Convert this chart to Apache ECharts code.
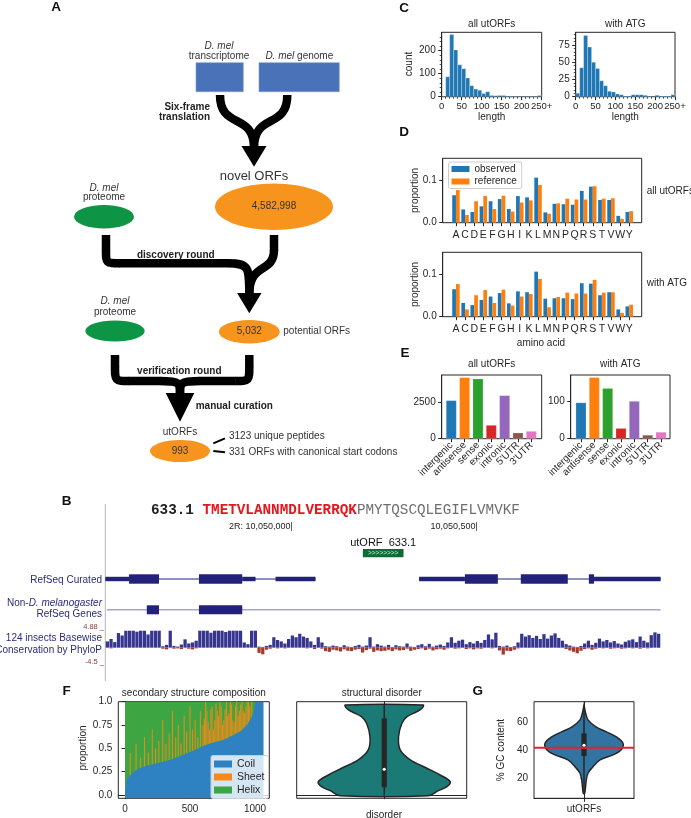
<!DOCTYPE html>
<html>
<head>
<meta charset="utf-8">
<title>utORFs figure</title>
<script src="https://cdn.jsdelivr.net/npm/echarts@6/dist/echarts.min.js"></script>
<style>
html,body{margin:0;padding:0;background:#ffffff;}
#chart{width:691px;height:818px;}
</style>
</head>
<body>
<div id="chart"></div>
<script>
// ================= DATA =================
// Panel A flow counts
const flowCounts = ['4,582,998', '5,032', '993'];
const utorfNotes = ['3123 unique peptides', '331 ORFs with canonical start codons'];

// Panel C: length histograms (bin start, width 10)
const binWidth = 10;
const lengthBins = [0,10,20,30,40,50,60,70,80,90,100,110,120,130,140,150,160,170,180,190,200,210,220,230,240];
const countAll = [0,87,270,203,139,122,81,48,33,28,14,22,5,4,5,5,2,1,1,1,1,1,1,3,5];
const countATG = [5,42,89,72,50,41,23,16,8,7,4,3,1,1,3,3,3,2,1,0,2,1,1,1,3];
const lengthTicks = [0,50,100,150,200,250];

// Panel D: amino acid composition
const aminoAcids = ['A','C','D','E','F','G','H','I','K','L','M','N','P','Q','R','S','T','V','W','Y'];
const observedAll  = [0.064,0.031,0.025,0.038,0.050,0.055,0.032,0.062,0.059,0.105,0.024,0.044,0.043,0.042,0.074,0.084,0.053,0.053,0.016,0.025];
const referenceAll = [0.076,0.018,0.050,0.062,0.032,0.063,0.026,0.047,0.052,0.088,0.021,0.045,0.056,0.054,0.054,0.085,0.056,0.057,0.009,0.027];
const observedATG  = [0.064,0.032,0.027,0.039,0.047,0.055,0.031,0.059,0.057,0.105,0.042,0.043,0.043,0.041,0.078,0.077,0.050,0.057,0.017,0.024];
const referenceATG = [0.076,0.017,0.050,0.062,0.032,0.063,0.026,0.047,0.053,0.088,0.022,0.046,0.056,0.054,0.054,0.086,0.056,0.057,0.009,0.028];

// Panel E: genomic location
const locCats = ['intergenic','antisense','sense','exonic','intronic',"5'UTR","3'UTR"];
const locAll = [2662,4259,4167,949,3009,417,532];
const locATG = [96,163,134,28,100,10,18];

// Panel B: genome browser (2R coordinates)
const genomeTicks = [10050000, 10050500];
const genomeTickLabels = ['2R: 10,050,000|', '10,050,500|'];
const utorfName = 'utORF  633.1';
const utorfSpan = [[10050189, 10050299]];
const refseqSpans = [[10049493, 10050061], [10050341, 10050994]];
const refseqExons = [
  [10049493,10049557,0],[10049557,10049638,1],[10049746,10049863,1],[10049863,10049899,0],[10049953,10050061,0],
  [10050341,10050465,0],[10050465,10050554,1],[10050616,10050743,1],[10050800,10050814,1],[10050814,10050994,0]
];
const nonDmelSpans = [[10049497, 10050994]];
const nonDmelExons = [[10049605,10049638,1],[10049746,10049863,1]];
const phyloPos = [
  1.8,2.5,1.6,4.2,3.5,4.88,4.88,4.88,4.6,4.88,
  4.88,3.8,4.88,4.88,4.88,0.4,0.8,4.88,0.5,0.3,
  0.9,2.4,1.2,1.5,2.0,4.88,4.88,4.88,4.3,4.88,
  4.88,4.88,4.5,4.88,4.88,4.88,4.88,1.5,1.0,4.88,
  4.88,0.3,0.2,0.5,0.8,3.0,2.2,1.8,1.2,2.5,
  3.5,3.0,4.0,3.2,2.8,1.8,0.8,3.0,1.5,0.4,
  0.3,0.6,0.4,0.2,0.7,0.3,0.2,0.5,0.8,0.3,
  0.6,3.0,0.3,1.0,0.6,0.3,0.8,0.2,0.7,0.4,
  0.3,1.2,0.3,0.2,0.7,1.0,0.4,1.1,0.3,0.6,
  0.9,0.5,1.5,3.0,1.4,2.0,2.3,1.0,1.6,1.2,
  1.9,1.4,2.2,3.8,2.4,4.3,0.5,0.3,0.6,0.2,
  0.4,1.5,4.0,3.2,3.6,2.8,3.4,2.5,3.9,2.6,
  3.5,4.1,2.8,2.0,1.0,0.6,0.3,0.2,0.5,1.2,
  2.0,0.8,1.4,2.6,1.8,2.2,1.5,1.9,1.2,0.9,
  1.7,2.1,2.4,1.6,3.2,2.0,1.5,3.6,4.4,4.0
];
const phyloNeg = [
  0,-0.2,0,0,0,0,0,0,0,0,0,0,0,0,0,
  -0.3,-0.5,0,-0.3,-0.2,-0.4,0,-0.3,-0.5,-0.2,
  0,0,0,0,0,0,0,0,0,0,0,0,0,0,0,0,
  -1.5,-1.9,-0.6,-0.3,0,-0.2,0,-0.2,0,0,
  0,0,0,-0.2,0,-0.4,0,-0.3,-1.0,-1.2,
  -0.6,-0.8,-1.1,-0.5,-0.9,-1.0,-0.6,-0.4,-1.4,-0.7,
  -0.3,-1.2,-0.8,-1.0,-0.9,-0.6,-1.0,-0.5,-0.8,-0.7,
  -0.3,-0.9,-0.6,-0.4,-0.2,-0.7,-0.3,-0.8,-0.5,-0.3,
  -0.6,-0.2,0,-0.3,-0.2,0,-0.4,-0.2,-0.5,-0.2,
  -0.3,0,0,-0.2,0,-0.8,-2.0,-0.9,-1.0,-0.6,
  -0.2,0,0,-0.1,0,-0.1,0,0,-0.1,0,
  0,-0.1,0,-0.4,-0.8,-1.2,-1.6,-0.9,-0.4,-0.2,
  -0.6,-0.3,-0.1,-0.2,-0.1,-0.3,-0.2,-0.1,-0.3,-0.2,
  -0.1,-0.2,-0.1,-0.3,-0.1,-0.2,-0.1,0,-0.1
];

// Panel F: secondary structure (sorted utORFs) and disorder
const coilCurve = [[0,0.02],[5,0.08],[13,0.16],[38,0.21],[115,0.29],[244,0.34],[372,0.39],[500,0.46],[628,0.54],[756,0.59],[885,0.68],[949,0.77],[987,0.875],[1008,1],[1064,1]];
const helixSpan = [[0,1],[1064,1]];
const sheetSpikes = [
  [40,0.21,0.45],[85,0.26,0.55],[120,0.29,0.40],[150,0.30,0.62],[180,0.31,0.45],[210,0.32,0.70],[235,0.33,0.50],
  [260,0.345,0.58],[290,0.35,0.80],[315,0.365,0.55],[340,0.375,0.66],[365,0.385,0.90],[390,0.40,0.62],[410,0.41,0.75],
  [430,0.42,0.55],[455,0.435,0.85],[475,0.445,0.68],[500,0.46,0.95],[520,0.47,0.70],[540,0.485,0.80],[560,0.495,0.62],
  [580,0.51,0.90],[600,0.52,0.75],[610,0.53,0.82],[620,0.535,1.0],[630,0.54,0.9],[640,0.545,0.78],[650,0.55,0.7],
  [660,0.55,0.92],[670,0.555,0.95],[680,0.56,0.70],[690,0.565,0.8],[700,0.57,0.98],[710,0.575,0.9],[720,0.58,0.85],
  [730,0.58,1.0],[740,0.585,0.95],[750,0.59,0.75],[760,0.59,0.80],[770,0.60,0.92],[780,0.605,1.0],[790,0.61,0.85],
  [800,0.62,0.88],[810,0.63,1.0],[820,0.635,0.97],[830,0.64,0.8],[840,0.65,0.78],[850,0.66,0.95],[860,0.665,1.0],
  [870,0.67,0.85],[880,0.675,0.90],[890,0.69,0.97],[900,0.70,1.0],[910,0.715,0.9],[920,0.73,0.88],[930,0.745,0.95],
  [940,0.76,1.0],[950,0.78,1.0],[960,0.80,0.95],[975,0.84,1.0]
];
const disorderLevels  = [1.0,0.964,0.926,0.871,0.798,0.650,0.504,0.394,0.302,0.228,0.154,0.099,0.055,0.0];
const disorderDensity = [0.229,0.222,0.192,0.134,0.104,0.084,0.094,0.153,0.251,0.329,0.388,0.369,0.318,0.259];
const disorderBox = [0, 0.093, 0.291, 0.853, 1.0];

// Panel G: GC content
const gcLevels  = [72.6,66.7,62,57,53.6,50,45.3,40.5,37,33.4,28.6,23.9,19,9.5];
const gcDensity = [0,0.017,0.04,0.12,0.22,0.32,0.39,0.37,0.29,0.16,0.09,0.04,0.023,0.007];
const gcBox = [9.5, 36.2, 43.9, 52.4, 72.6];
const genomeGC = 42.1;

// ================= STYLE =================
const FONT = '"Liberation Sans", Arial, Helvetica, sans-serif';
const MONO = '"Liberation Mono", "DejaVu Sans Mono", monospace';
const TXT = '#262626';
const TAB10 = ['#1f77b4','#ff7f0e','#2ca02c','#d62728','#9467bd','#8c564b','#e377c2'];
const GMIN = 10049492, GMAX = 10050995;
const COIL = '#2f82c2', SHEET = '#f5891c', HELIX = '#3da541';
const NAVY = '#22227a';

function ax(grid, o) {
  const base = {gridIndex: grid, type: 'value',
    axisLine: {show: true, lineStyle: {color: TXT, width: 1}},
    axisTick: {show: true, length: 3.5, lineStyle: {color: TXT, width: 1}},
    axisLabel: {fontSize: 10, color: TXT, fontFamily: FONT, margin: 5},
    splitLine: {show: false}};
  for (const k in o) {
    if (base[k] && typeof base[k] === 'object' && !Array.isArray(base[k]) && typeof o[k] === 'object') base[k] = Object.assign({}, base[k], o[k]);
    else base[k] = o[k];
  }
  return base;
}
function hid(grid, o) { return Object.assign({gridIndex: grid, type: 'value', show: false}, o || {}); }
const boxed = {show: true, borderColor: TXT, borderWidth: 1, backgroundColor: 'transparent'};

const grids = [
  Object.assign({left: 441.7, top: 32.3, width: 100, height: 64.4}, boxed),   //0 C1
  Object.assign({left: 575.7, top: 32.3, width: 99.3, height: 64.4}, boxed),  //1 C2
  Object.assign({left: 442.7, top: 158.3, width: 199, height: 64.4}, boxed),  //2 D1
  {left: 451.4, top: 158.3, width: 182.4, height: 64.4},                      //3 D1 inner
  Object.assign({left: 442.7, top: 252.3, width: 199, height: 64.4}, boxed),  //4 D2
  {left: 451.4, top: 252.3, width: 182.4, height: 64.4},                      //5 D2 inner
  Object.assign({left: 441.7, top: 375, width: 100, height: 63.7}, boxed),    //6 E1
  {left: 444.6, top: 375, width: 93.4, height: 63.7},                         //7 E1 inner
  Object.assign({left: 570.7, top: 375, width: 99.3, height: 63.7}, boxed),   //8 E2
  {left: 574.3, top: 375, width: 93.4, height: 63.7},                         //9 E2 inner
  {left: 105, top: 549, width: 556, height: 8.3},                             //10 utORF track
  {left: 105, top: 574.3, width: 556, height: 9.4},                           //11 RefSeq
  {left: 105, top: 605.3, width: 556, height: 9},                             //12 non-Dmel
  {left: 105.5, top: 630.7, width: 555, height: 32.6},                        //13 phyloP
  Object.assign({left: 118.3, top: 701.7, width: 151, height: 96.6}, boxed),  //14 F1
  Object.assign({left: 296.7, top: 701.7, width: 170, height: 96.6}, boxed),  //15 F2
  Object.assign({left: 534, top: 701.7, width: 100, height: 96.6}, boxed)     //16 G
];

const minor = {show: true, splitNumber: 5, length: 2, lineStyle: {color: TXT, width: 0.8}};
const catX = (g, cats, extra) => ax(g, Object.assign({type: 'category', data: cats, axisLine: {show: false},
  axisTick: {alignWithLabel: true, interval: 0}, axisLabel: {interval: 0, margin: 7, fontSize: 10.5}}, extra || {}));
const plain = v => String(v);

const xAxes = [
  ax(0, {min: 0, max: 250, interval: 50, minorTick: minor, axisLabel: {fontSize: 9.5, formatter: v => v === 250 ? '250+' : String(v)}}),
  ax(1, {min: 0, max: 250, interval: 50, minorTick: minor, axisLabel: {fontSize: 9.5, formatter: v => v === 250 ? '250+' : String(v)}}),
  hid(2, {min: 0, max: 1}),
  catX(3, aminoAcids),
  hid(4, {min: 0, max: 1}),
  catX(5, aminoAcids),
  hid(6, {min: 0, max: 1}),
  catX(7, locCats, {axisLabel: {interval: 0, rotate: 45, margin: 5, fontSize: 10}}),
  hid(8, {min: 0, max: 1}),
  catX(9, locCats, {axisLabel: {interval: 0, rotate: 45, margin: 5, fontSize: 10}}),
  ax(10, {min: GMIN, max: GMAX, position: 'top', axisLine: {show: false}, axisTick: {show: false},
    axisLabel: {customValues: genomeTicks, formatter: v => genomeTickLabels[genomeTicks.indexOf(v)], align: 'right', margin: 18, fontSize: 9, color: '#222'}}),
  hid(11, {min: GMIN, max: GMAX}),
  hid(12, {min: GMIN, max: GMAX}),
  {gridIndex: 13, type: 'category', show: false, data: phyloPos.map((_, i) => String(i))},
  ax(14, {min: -51.5, max: 1110, axisTick: {customValues: [0, 500, 1000]}, axisLabel: {customValues: [0, 500, 1000], margin: 6, formatter: plain}}),
  ax(15, {min: -0.515, max: 0.485, axisTick: {customValues: [0]}, axisLabel: {show: false}}),
  ax(16, {min: -0.5, max: 0.5, axisTick: {customValues: [0]}, axisLabel: {customValues: [0], formatter: () => 'utORFs', margin: 6}})
];

const yl = (vals, fmt) => ({axisTick: {customValues: vals}, axisLabel: {customValues: vals, margin: 6, formatter: fmt || plain}});
const yAxes = [
  ax(0, Object.assign({min: 0, max: 280, interval: 100, minorTick: minor}, yl([0, 100, 200]))),
  ax(1, Object.assign({min: 0, max: 93.5, interval: 25, minorTick: minor}, yl([0, 25, 50, 75]))),
  ax(2, Object.assign({min: 0, max: 0.15}, yl([0, 0.1], v => v.toFixed(1)))),
  hid(3, {min: 0, max: 0.15}),
  ax(4, Object.assign({min: 0, max: 0.15}, yl([0, 0.1], v => v.toFixed(1)))),
  hid(5, {min: 0, max: 0.15}),
  ax(6, Object.assign({min: 0, max: 4420}, yl([0, 2500]))),
  hid(7, {min: 0, max: 4420}),
  ax(8, Object.assign({min: 0, max: 169}, yl([0, 100]))),
  hid(9, {min: 0, max: 169}),
  hid(10, {min: 0, max: 1}),
  hid(11, {min: 0, max: 1}),
  hid(12, {min: 0, max: 1}),
  hid(13, {min: -4.5, max: 4.88}),
  ax(14, Object.assign({min: -0.035, max: 1}, yl([0, 0.25, 0.5, 0.75, 1], v => v === 0 ? '0.0' : v === 1 ? '1.0' : String(v)))),
  ax(15, {min: -0.029, max: 1.036, axisTick: {customValues: [0, 0.5, 1]}, axisLabel: {show: false}}),
  ax(16, Object.assign({min: 6, max: 75}, yl([20, 40, 60])))
];

// ================= RENDERERS =================
function histRender(color) {
  return function (params, api) {
    const x0 = api.value(0), h = api.value(1);
    const a = api.coord([x0, h]);
    const b = api.coord([x0 + binWidth, 0]);
    return {type: 'rect', shape: {x: a[0], y: a[1], width: b[0] - a[0], height: b[1] - a[1]},
      style: {fill: color, stroke: 'rgba(255,255,255,0.45)', lineWidth: 0.6}};
  };
}
function spanLine(color, width) {
  return function (params, api) {
    const a = api.coord([api.value(0), 0.5]), b = api.coord([api.value(1), 0.5]);
    return {type: 'line', shape: {x1: a[0], y1: a[1], x2: b[0], y2: b[1]}, style: {stroke: color, lineWidth: width}};
  };
}
function exonRect(color) {
  return function (params, api) {
    const a = api.coord([api.value(0), 1]), b = api.coord([api.value(1), 0]);
    const full = b[1] - a[1];
    const h = api.value(2) === 1 ? full : full * 0.47;
    const cy = (a[1] + b[1]) / 2;
    return {type: 'rect', shape: {x: a[0], y: cy - h / 2, width: Math.max(1, b[0] - a[0]), height: h}, style: {fill: color}};
  };
}
function utorfRender(params, api) {
  const a = api.coord([api.value(0), 1]), b = api.coord([api.value(1), 0]);
  const cx = (a[0] + b[0]) / 2;
  return {type: 'group', children: [
    {type: 'rect', shape: {x: a[0], y: a[1], width: b[0] - a[0], height: b[1] - a[1]}, style: {fill: '#0f6a36'}},
    {type: 'text', x: cx, y: (a[1] + b[1]) / 2, style: {text: '>>>>>>>>', fill: '#d6efdc', fontSize: 6.5, fontFamily: FONT, align: 'center', verticalAlign: 'middle'}},
    {type: 'text', x: cx, y: a[1] - 6, style: {text: utorfName, fill: '#111', fontSize: 11, fontFamily: FONT, align: 'center', verticalAlign: 'middle'}}
  ]};
}
function spikeRender(params, api) {
  const a = api.coord([api.value(0), api.value(1)]), b = api.coord([api.value(0), api.value(2)]);
  return {type: 'rect', shape: {x: a[0] - 0.55, y: b[1], width: 1.1, height: a[1] - b[1]}, style: {fill: SHEET, opacity: 0.9}};
}
function violinRender(levels, dens, box, fill) {
  return function (params, api) {
    const right = [], left = [];
    for (let i = 0; i < levels.length; i++) {
      right.push(api.coord([dens[i], levels[i]]));
      left.push(api.coord([-dens[i], levels[i]]));
    }
    const pts = right.concat(left.reverse());
    const w0 = api.coord([0, box[0]]), w1 = api.coord([0, box[4]]);
    const q1 = api.coord([0, box[1]]), q3 = api.coord([0, box[3]]), md = api.coord([0, box[2]]);
    return {type: 'group', children: [
      {type: 'polygon', shape: {points: pts, smooth: 0.35}, style: {fill: fill, stroke: TXT, lineWidth: 1.5}},
      {type: 'line', shape: {x1: w0[0], y1: w0[1], x2: w1[0], y2: w1[1]}, style: {stroke: TXT, lineWidth: 1.5}},
      {type: 'rect', shape: {x: q3[0] - 2.6, y: q3[1], width: 5.2, height: q1[1] - q3[1]}, style: {fill: TXT}},
      {type: 'circle', shape: {cx: md[0], cy: md[1], r: 1.6}, style: {fill: '#ffffff'}}
    ]};
  };
}

// ================= SERIES =================
const series = [
  {type: 'custom', xAxisIndex: 0, yAxisIndex: 0, clip: true, data: lengthBins.map((b, i) => [b, countAll[i]]), renderItem: histRender('#1f77b4'), silent: true},
  {type: 'custom', xAxisIndex: 1, yAxisIndex: 1, clip: true, data: lengthBins.map((b, i) => [b, countATG[i]]), renderItem: histRender('#1f77b4'), silent: true},
  {type: 'bar', name: 'observed', xAxisIndex: 3, yAxisIndex: 3, data: observedAll, itemStyle: {color: '#1f77b4'}, barGap: '0%', barCategoryGap: '18%'},
  {type: 'bar', name: 'reference', xAxisIndex: 3, yAxisIndex: 3, data: referenceAll, itemStyle: {color: '#ff7f0e'}, barGap: '0%', barCategoryGap: '18%'},
  {type: 'bar', name: 'observed', xAxisIndex: 5, yAxisIndex: 5, data: observedATG, itemStyle: {color: '#1f77b4'}, barGap: '0%', barCategoryGap: '18%'},
  {type: 'bar', name: 'reference', xAxisIndex: 5, yAxisIndex: 5, data: referenceATG, itemStyle: {color: '#ff7f0e'}, barGap: '0%', barCategoryGap: '18%'},
  {type: 'bar', xAxisIndex: 7, yAxisIndex: 7, barCategoryGap: '20%',
    data: locAll.map((v, i) => ({value: v, itemStyle: {color: TAB10[i], borderColor: 'rgba(255,255,255,0.35)', borderWidth: 0.6}}))},
  {type: 'bar', xAxisIndex: 9, yAxisIndex: 9, barCategoryGap: '20%',
    data: locATG.map((v, i) => ({value: v, itemStyle: {color: TAB10[i], borderColor: 'rgba(255,255,255,0.35)', borderWidth: 0.6}}))},
  {type: 'custom', xAxisIndex: 10, yAxisIndex: 10, data: utorfSpan, renderItem: utorfRender, silent: true},
  {type: 'custom', xAxisIndex: 11, yAxisIndex: 11, data: refseqSpans, renderItem: spanLine(NAVY, 1), silent: true},
  {type: 'custom', xAxisIndex: 11, yAxisIndex: 11, data: refseqExons, renderItem: exonRect(NAVY), silent: true},
  {type: 'custom', xAxisIndex: 12, yAxisIndex: 12, data: nonDmelSpans, renderItem: spanLine('#a4a4d8', 1.6), silent: true},
  {type: 'custom', xAxisIndex: 12, yAxisIndex: 12, data: nonDmelExons, renderItem: exonRect(NAVY), silent: true},
  {type: 'bar', xAxisIndex: 13, yAxisIndex: 13, data: phyloPos, itemStyle: {color: '#36368f'}, barCategoryGap: '12%', barGap: '-100%', silent: true},
  {type: 'bar', xAxisIndex: 13, yAxisIndex: 13, data: phyloNeg, itemStyle: {color: '#a53a2c'}, barCategoryGap: '12%', barGap: '-100%', silent: true},
  {type: 'line', name: 'Helix', xAxisIndex: 14, yAxisIndex: 14, data: helixSpan, symbol: 'none', z: 1,
    itemStyle: {color: HELIX}, lineStyle: {width: 0, color: HELIX}, areaStyle: {color: HELIX, opacity: 1, origin: 'start'}, silent: true},
  {type: 'custom', name: 'Sheet', xAxisIndex: 14, yAxisIndex: 14, data: sheetSpikes, renderItem: spikeRender, z: 2,
    encode: {x: 0, y: [1, 2]}, itemStyle: {color: SHEET}, silent: true},
  {type: 'line', name: 'Coil', xAxisIndex: 14, yAxisIndex: 14, data: coilCurve, symbol: 'none', smooth: 0.25, z: 3,
    itemStyle: {color: COIL}, lineStyle: {width: 0, color: COIL}, areaStyle: {color: COIL, opacity: 1, origin: 'start'}, silent: true},
  {type: 'custom', xAxisIndex: 15, yAxisIndex: 15, data: [[0]], renderItem: violinRender(disorderLevels, disorderDensity, disorderBox, '#1b7a76'), silent: true},
  {type: 'custom', xAxisIndex: 16, yAxisIndex: 16, data: [[0]], renderItem: violinRender(gcLevels, gcDensity, gcBox, '#3274a1'), silent: true},
  {type: 'line', xAxisIndex: 16, yAxisIndex: 16, data: [[-0.5, genomeGC], [0.5, genomeGC]], symbol: 'none', lineStyle: {color: '#e8202a', width: 2}, silent: true}
];

// ================= GRAPHIC (diagram, labels) =================
function T(x, y, text, o) {
  return {type: 'text', x: x, y: y, z: 10, style: Object.assign({text: text, fontSize: 10, fontFamily: FONT, fill: '#333', align: 'center', verticalAlign: 'middle'}, o || {})};
}
function VT(x, y, text, o) {
  const t = T(x, y, text, Object.assign({fill: TXT}, o || {}));
  t.rotation = Math.PI / 2;
  return t;
}
function ELL(cx, cy, rx, ry, fill) {
  return {type: 'circle', x: cx, y: cy, scaleX: rx / ry, shape: {cx: 0, cy: 0, r: ry}, style: {fill: fill}};
}
function BZ(x1, y1, c1x, c1y, c2x, c2y, x2, y2, w) {
  return {type: 'bezierCurve', shape: {x1: x1, y1: y1, cpx1: c1x, cpy1: c1y, cpx2: c2x, cpy2: c2y, x2: x2, y2: y2}, style: {stroke: '#000', lineWidth: w || 8.5, fill: null}};
}
function LN(x1, y1, x2, y2, w, c) {
  return {type: 'line', shape: {x1: x1, y1: y1, x2: x2, y2: y2}, style: {stroke: c || '#000', lineWidth: w || 8.5}};
}
function TRI(pts) { return {type: 'polygon', shape: {points: pts}, style: {fill: '#000'}}; }
const ORANGE = '#f7941d', GREEN = '#0e9445', BLUEBOX = '#4a72b8';
const ital = {i: {fontStyle: 'italic', fontSize: 10, fontFamily: FONT, fill: '#333'}};
const bold = {fontWeight: 'bold', fill: '#222'};

const els = [];
// panel letters
[['A', 56, 7], ['B', 66.7, 501.7], ['C', 404, 8.3], ['D', 404, 132.7], ['E', 405, 353], ['F', 66.7, 691.7], ['G', 477.7, 691.7]]
  .forEach(p => els.push(T(p[1], p[2], p[0], {fontSize: 13.5, fontWeight: 'bold', fill: '#111'})));

// ---- Panel A ----
els.push(
  T(219, 46.7, 'D. mel', {fontStyle: 'italic'}),
  T(219, 56, 'transcriptome'),
  {type: 'rect', shape: {x: 196, y: 62.7, width: 47.3, height: 29}, style: {fill: BLUEBOX, stroke: '#7d9bd3', lineWidth: 0.6}},
  T(299.3, 56, '{i|D. mel} genome', {rich: ital}),
  {type: 'rect', shape: {x: 259, y: 62.7, width: 80.3, height: 29}, style: {fill: BLUEBOX, stroke: '#7d9bd3', lineWidth: 0.6}},
  BZ(220, 95, 220, 130, 254, 112, 254, 148),
  BZ(287.3, 95, 287.3, 130, 254, 112, 254, 148),
  TRI([[241.5, 146], [266.5, 146], [254, 166.7]]),
  T(210, 107.3, 'Six-frame', Object.assign({align: 'right'}, bold)),
  T(210, 117.3, 'translation', Object.assign({align: 'right'}, bold)),
  T(254, 176.7, 'novel ORFs', {fontSize: 13}),
  ELL(274, 206.7, 59, 23.3, ORANGE),
  T(274, 206.7, flowCounts[0]),
  T(104, 188.3, 'D. mel', {fontStyle: 'italic'}),
  T(104, 197.3, 'proteome'),
  ELL(104, 216.7, 30, 11.7, GREEN),
  // discovery round arrow
  LN(106, 235, 106, 250.5),
  BZ(106, 250, 106, 263.3, 106, 263.3, 120, 263.3),
  LN(119.5, 263.3, 228.5, 263.3),
  BZ(228, 263.3, 249.3, 263.3, 249.3, 268, 249.3, 294),
  LN(274, 235, 274, 250.5),
  BZ(274, 250, 274, 274, 249.3, 262, 249.3, 294),
  TRI([[237.1, 293], [261.5, 293], [249.3, 313.3]]),
  T(175.8, 255, 'discovery round', bold),
  T(115, 301.7, 'D. mel', {fontStyle: 'italic'}),
  T(115, 312.3, 'proteome'),
  ELL(115, 331, 29.7, 10.5, GREEN),
  ELL(249.3, 331.7, 30.5, 11.7, ORANGE),
  T(249.3, 331.7, flowCounts[1]),
  T(283.3, 331.7, 'potential ORFs', {align: 'left'}),
  // verification round arrow
  LN(115, 355, 115, 366.5),
  BZ(115, 366, 115, 381, 115, 381, 129, 381),
  LN(128.5, 381, 160.5, 381),
  BZ(160, 381, 180, 381, 180, 383, 180, 394),
  LN(249.3, 355, 249.3, 366.5),
  BZ(249.3, 366, 249.3, 381, 249.3, 381, 235.3, 381),
  LN(235.8, 381, 199.5, 381),
  BZ(200, 381, 180, 381, 180, 383, 180, 394),
  TRI([[165.7, 393], [194.3, 393], [180, 421.7]]),
  T(179.3, 371.5, 'verification round', bold),
  T(195.7, 406, 'manual curation', Object.assign({align: 'left'}, bold)),
  T(180, 432.3, 'utORFs'),
  ELL(180, 451, 30, 11, ORANGE),
  T(180, 451, flowCounts[2]),
  LN(213.3, 443.3, 225, 438.3, 2),
  LN(213.3, 451, 225, 452.3, 2),
  T(229, 436.7, utorfNotes[0], {align: 'left'}),
  T(229, 452.3, utorfNotes[1], {align: 'left'})
);

// ---- Panel B ----
els.push(
  LN(105.3, 504, 105.3, 681, 1, '#b5b5b5'),
  {type: 'text', x: 151, y: 510, z: 10, style: {
    text: '{n|633.1} {r|TMETVLANNMDLVERRQK}{g|PMYTQSCQLEGIFLVMVKF}', verticalAlign: 'middle', align: 'left',
    fontFamily: MONO, fontSize: 14.3,
    rich: {
      n: {fontFamily: MONO, fontSize: 14.3, fontWeight: 'bold', fill: '#222'},
      r: {fontFamily: MONO, fontSize: 14.3, fontWeight: 'bold', fill: '#e5161d'},
      g: {fontFamily: MONO, fontSize: 14.3, fill: '#6e6e6e'}
    }}},
  T(102, 580.7, 'RefSeq Curated', {align: 'right', fill: '#2b2b80'}),
  T(102, 603.3, 'Non-{i|D. melanogaster}', {align: 'right', fill: '#2b2b80', rich: {i: {fontStyle: 'italic', fontSize: 10, fontFamily: FONT, fill: '#2b2b80'}}}),
  T(102, 614, 'RefSeq Genes', {align: 'right', fill: '#2b2b80'}),
  T(104, 626.7, '4.88 _', {align: 'right', fill: '#8a3b3b', fontSize: 7.5}),
  T(102, 638, '124 insects Basewise', {align: 'right', fill: '#2b2b80'}),
  T(102, 650, 'Conservation by PhyloP', {align: 'right', fill: '#2b2b80'}),
  T(104, 661.7, '-4.5 _', {align: 'right', fill: '#8a3b3b', fontSize: 7.5})
);

// ---- Panel C/D/E/F/G titles and axis names ----
const tt = {fill: TXT};
els.push(
  T(491.7, 24, 'all utORFs', tt), T(625.3, 24, 'with ATG', tt),
  VT(409, 64, 'count'),
  T(491.7, 117, 'length', tt), T(625.3, 117, 'length', tt),
  T(646.7, 191, 'all utORFs', Object.assign({align: 'left'}, tt)),
  T(646.7, 283.3, 'with ATG', Object.assign({align: 'left'}, tt)),
  VT(415, 190.5, 'proportion'), VT(415, 284.5, 'proportion'),
  T(541, 343.3, 'amino acid', tt),
  T(491.7, 364, 'all utORFs', tt), T(620.3, 364, 'with ATG', tt),
  T(193.8, 693.3, 'secondary structure composition', tt),
  T(381.7, 693.3, 'structural disorder', tt),
  VT(83.3, 748, 'proportion'),
  T(384, 815, 'disorder', tt),
  VT(501.7, 750, '% GC content')
);

const legends = [
  {data: ['observed', 'reference'], orient: 'vertical', left: 448.5, top: 162, icon: 'rect', itemWidth: 18, itemHeight: 6, itemGap: 2.5,
    textStyle: {fontSize: 10, lineHeight: 10, color: TXT, fontFamily: FONT}, backgroundColor: 'rgba(255,255,255,0.85)',
    borderColor: '#cccccc', borderWidth: 1, borderRadius: 2, padding: [2, 5, 2, 3], selectedMode: false},
  {data: [{name: 'Coil', itemStyle: {color: COIL}}, {name: 'Sheet', itemStyle: {color: SHEET}}, {name: 'Helix', itemStyle: {color: HELIX}}],
    orient: 'vertical', left: 211, top: 755.5, icon: 'rect', itemWidth: 18, itemHeight: 7, itemGap: 2,
    textStyle: {fontSize: 10.5, lineHeight: 10.5, color: TXT, fontFamily: FONT}, backgroundColor: 'rgba(255,255,255,0.8)',
    borderColor: '#cccccc', borderWidth: 1, borderRadius: 2, padding: [3, 4, 3, 3], selectedMode: false, z: 20}
];

const option = {
  animation: false,
  backgroundColor: '#ffffff',
  textStyle: {fontFamily: FONT, color: TXT},
  grid: grids,
  xAxis: xAxes,
  yAxis: yAxes,
  legend: legends,
  series: series,
  graphic: els
};

const chart = echarts.init(document.getElementById('chart'), null, {renderer: 'canvas'});
chart.setOption(option);
</script>
</body>
</html>
